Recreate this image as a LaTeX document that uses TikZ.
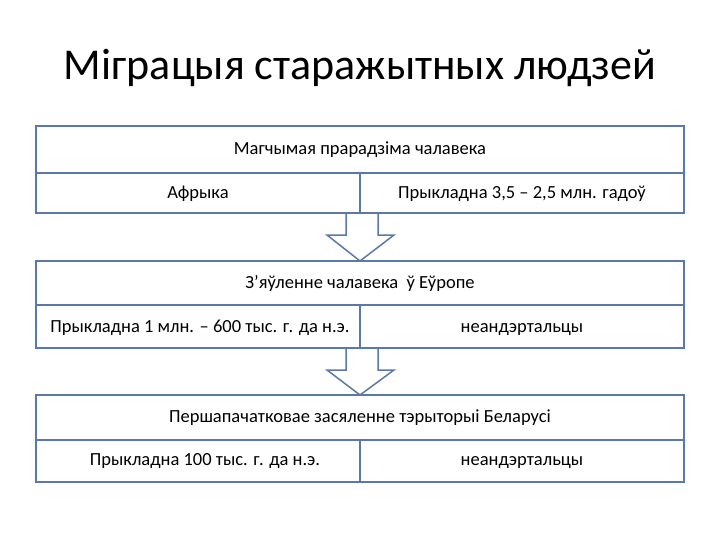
\documentclass[tikz,border=0pt]{standalone}
\usepackage{fontspec}
\setmainfont{Carlito}
\definecolor{bl}{RGB}{90,120,170}
\begin{document}
\begin{tikzpicture}[x=1pt,y=-1pt,
  ln/.style={draw=bl,line width=1.5pt},
  txt/.style={font=\fontsize{18.5}{20}\selectfont,inner sep=0,text height=12pt,text depth=3pt},
  arr/.style={draw=bl,line width=1.5pt,fill=white,line join=miter}]
\useasboundingbox (0,0) rectangle (720,540);
\node[font=\fontsize{44}{48}\selectfont,inner sep=0] (title) at (360,68) {Міграцыя старажытных людзей};
% arrows
\foreach \t/\b in {213/261,348/395}{
  \draw[arr] (346,\t) -- (346,\t+22) -- (327,\t+22) -- (360,\b) -- (394,\t+22) -- (378,\t+22) -- (378,\t);
}
% boxes
\foreach \t/\m/\b/\n in {126/173/213/a,261/305/348/b,395/440/482/c}{
  \draw[ln] (36,\t) rectangle (684,\b);
  \draw[ln] (36,\m) -- (684,\m);
  \draw[ln] (360,\m) -- (360,\b);
}
\node[txt] (a0) at (360,150) {Магчымая прарадзіма чалавека};
\node[txt] (a1) at (198,194) {Афрыка};
\node[txt] (a2) at (522,194) {Прыкладна 3,5 – 2,5 млн. гадоў};
\node[txt] (b0) at (360,284) {З’яўленне чалавека\ \ ў Еўропе};
\node[txt] (b1) at (200,328) {Прыкладна 1 млн. – 600 тыс. г. да н.э.};
\node[txt] (b2) at (522,328) {неандэртальцы};
\node[txt] (c0) at (360,418) {Першапачатковае засяленне тэрыторыі Беларусі};
\node[txt] (c1) at (205,461) {Прыкладна 100 тыс. г. да н.э.};
\node[txt] (c2) at (522,461) {неандэртальцы};
\end{tikzpicture}
\end{document}
